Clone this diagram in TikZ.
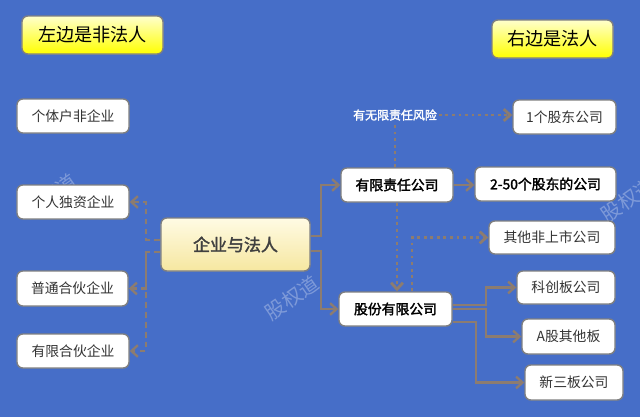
\documentclass[tikz,border=0pt]{standalone}
\usepackage{fontspec}
\setmainfont{Noto Sans CJK SC}[AutoFakeBold=2]
\usetikzlibrary{arrows.meta,positioning}
\definecolor{bg}{RGB}{70,110,200}
\definecolor{link}{RGB}{140,124,112}
\definecolor{edge}{RGB}{128,128,128}
\definecolor{creamtop}{RGB}{255,251,228}
\definecolor{creambot}{RGB}{246,231,160}

\begin{document}
\begin{tikzpicture}[x=0.03cm,y=-0.03cm,>={Straight Barb[length=5.5pt,width=10pt]},line width=1.5pt,
  box/.style={draw=edge,line width=1.2pt,fill=white,rounded corners=5pt,inner sep=0pt,text=black!80,font=\fontsize{11.8}{14}\selectfont},
  bbox/.style={box,text=black,font=\fontsize{11.8}{14}\selectfont\bfseries},
  title/.style={box,text=black,top color=yellow!20,bottom color=yellow,font=\fontsize{15.5}{18}\selectfont},
  main node/.style={box,top color=creamtop,bottom color=creambot,text=black!75,font=\fontsize{14.5}{17}\selectfont\bfseries},
  conn/.style={draw=link,line width=2pt},
  dotline/.style={conn,line width=2.4pt,dash pattern=on 2.4pt off 3.2pt},
  dashline/.style={conn,dash pattern=on 5pt off 3.5pt},
  wmark/.style={text=white,opacity=0.3,rotate=35,font=\fontsize{17}{20}\selectfont}]

            \useasboundingbox (0,0) rectangle (640,417);
            \fill[bg] (0,0) rectangle (640,417);

            \node[wmark] (17) at (292,298) {股权道};
            \node[wmark] (18) at (50,196) {股权道};
            \node[wmark] (19) at (628,200) {股权道};

            \node[title, minimum width=4.23cm, minimum height=1.14cm] (1) at (92.5,35) {左边是非法人};
            \node[title, minimum width=3.63cm, minimum height=1.14cm] (2) at (552.5,39) {右边是法人};

            \node[box, minimum width=3.36cm, minimum height=1.02cm] (3) at (73,116) {个体户非企业};
            \node[box, minimum width=3.36cm, minimum height=1.02cm] (4) at (73,202) {个人独资企业};
            \node[box, minimum width=3.33cm, minimum height=1.05cm] (5) at (72.5,288.5) {普通合伙企业};
            \node[box, minimum width=3.36cm, minimum height=1.02cm] (6) at (73,351) {有限合伙企业};

            \node[main node, minimum width=4.47cm, minimum height=1.59cm] (7) at (235.5,244.5) {企业与法人};

            \node[bbox, minimum width=3.36cm, minimum height=1.02cm] (8) at (397,185) {有限责任公司};
            \node[bbox, minimum width=4.23cm, minimum height=1.02cm] (9) at (545.5,184) {2-50个股东的公司};
            \node[box, minimum width=3.09cm, minimum height=1.02cm] (10) at (564.5,117) {1个股东公司};
            \node[text=white, font=\fontsize{10.2}{12}\selectfont\bfseries, inner sep=1pt] (11) at (395,115) {有无限责任风险};
            \node[box, minimum width=3.78cm, minimum height=0.99cm] (12) at (552,237.5) {其他非上市公司};
            \node[bbox, minimum width=3.39cm, minimum height=1.02cm] (13) at (395.5,309) {股份有限公司};
            \node[box, minimum width=2.94cm, minimum height=0.99cm] (14) at (566,287.5) {科创板公司};
            \node[box, minimum width=2.79cm, minimum height=1.05cm] (15) at (568.5,336.5) {A股其他板};
            \node[box, minimum width=2.94cm, minimum height=1.05cm] (16) at (574,382.5) {新三板公司};

            \coordinate (j1) at (321,236);
            \coordinate (j2) at (321,251);
            \coordinate (k1) at (146,240);
            \coordinate (k2) at (146,252);
            \coordinate (n1) at (412,235);
            \coordinate (m1) at (486,305);
            \coordinate (m2) at (486,309);
            \coordinate (m3) at (476,322);

            \draw[conn,->] (7.east |- j1) -- (j1) |- (8);
            \draw[conn,->] (7.east |- j2) -- (j2) |- (13);
            \draw[conn,->] (8) -- (8 -| 9.west);

            \draw[dotline] (8.north -| 11) -- (11.south);
            \draw[dotline,->] (11.east) -- (11.east -| 10.west);
            \draw[dotline,->] (8.south) -- (8.south |- 13.north);
            \draw[dotline,->] (13.north -| n1) |- (12);

            \draw[conn,->] (13.east |- m1) -- (m1) |- (14);
            \draw[conn,->] (13.east |- m2) -- (m2) |- (15);
            \draw[conn,->] (13.east |- m3) -- (m3) |- (16);

            \draw[dashline,->] (7.west |- k1) -- (k1) |- (4);
            \draw[dashline,->] (7.west |- k2) -- (k2) |- (5);
            \draw[dashline,->] (k2) |- (6);

            ;
        \end{tikzpicture}
\end{document}
